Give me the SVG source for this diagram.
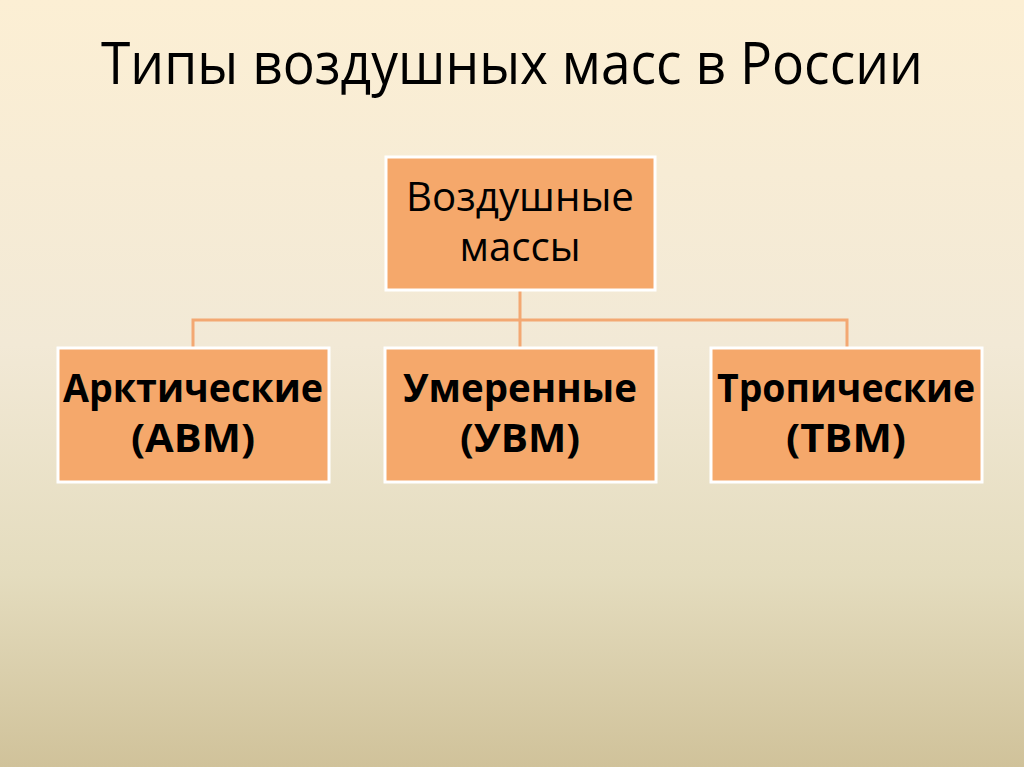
<svg xmlns="http://www.w3.org/2000/svg" width="1024" height="767" viewBox="0 0 1024 767">
<defs>
<linearGradient id="bg" x1="0" y1="0" x2="0" y2="1">
<stop offset="0" stop-color="#FCEFD4"/>
<stop offset="0.45" stop-color="#F2E9D6"/>
<stop offset="0.75" stop-color="#E4DCBE"/>
<stop offset="1" stop-color="#D0C29A"/>
</linearGradient>
</defs>
<style>
.box{fill:#F5A86B;stroke:#FFFFFF;stroke-width:3}
.conn{fill:none;stroke:#F3A872;stroke-width:3}
.t{font-family:"Open Sans","Noto Sans","Liberation Sans",sans-serif;fill:#000;text-anchor:middle}
.n{font-size:40px}
.b{font-size:40px;font-weight:bold}
</style>
<rect x="0" y="0" width="1024" height="767" fill="url(#bg)"/>
<text class="t" x="512" y="84" font-size="59" textLength="822" lengthAdjust="spacingAndGlyphs">Типы воздушных масс в России</text>
<g id="connectors">
<path class="conn" d="M520 290 V348 M193 348 V320 H847 V348"/>
</g>
<g id="root">
<rect class="box" x="386" y="157" width="269" height="133"/>
<text class="t n" x="520" y="211" textLength="228" lengthAdjust="spacingAndGlyphs">Воздушные</text>
<text class="t n" x="520" y="261" textLength="121" lengthAdjust="spacingAndGlyphs">массы</text>
</g>
<g id="arctic">
<rect class="box" x="58" y="348" width="271" height="134"/>
<text class="t b" x="193" y="402" textLength="260" lengthAdjust="spacingAndGlyphs">Арктические</text>
<text class="t b" x="193" y="452" textLength="124" lengthAdjust="spacingAndGlyphs">(АВМ)</text>
</g>
<g id="temperate">
<rect class="box" x="385" y="348" width="271" height="134"/>
<text class="t b" x="520" y="402" textLength="234" lengthAdjust="spacingAndGlyphs">Умеренные</text>
<text class="t b" x="520" y="452" textLength="120" lengthAdjust="spacingAndGlyphs">(УВМ)</text>
</g>
<g id="tropical">
<rect class="box" x="711" y="348" width="271" height="134"/>
<text class="t b" x="846" y="402" textLength="258" lengthAdjust="spacingAndGlyphs">Тропические</text>
<text class="t b" x="846" y="452" textLength="120" lengthAdjust="spacingAndGlyphs">(ТВМ)</text>
</g>
</svg>
